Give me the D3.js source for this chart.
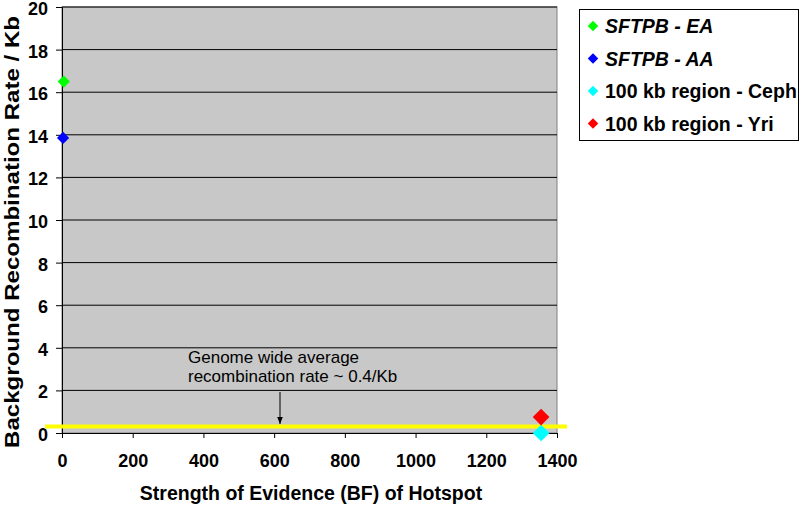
<!DOCTYPE html>
<html><head><meta charset="utf-8">
<script src="https://cdn.jsdelivr.net/npm/d3@7"></script>
<style>body{margin:0;background:#fff}svg{display:block;font-family:Arial,"Liberation Sans",sans-serif}</style>
</head><body>
<svg id="c" width="800" height="505"></svg>
<script>
const seriesNames = ["SFTPB - EA", "SFTPB - AA", "100 kb region - Ceph", "100 kb region - Yri"];
const seriesItalic = [true, true, false, false];
const seriesColors = ["#00ff00", "#0000ff", "#00ffff", "#ff0000"];
const xValues = [5, 3, 1355, 1355];
const yValues = [16.5, 13.85, 0.0, 0.75];
const xTicks = [0, 200, 400, 600, 800, 1000, 1200, 1400];
const yTicks = [0, 2, 4, 6, 8, 10, 12, 14, 16, 18, 20];
const genomeAvg = 0.3;

const svg = d3.select("#c");
const L = 62, R = 557, T = 7, B = 433;
const x = d3.scaleLinear().domain([0, 1400]).range([L, R]);
const y = d3.scaleLinear().domain([0, 20]).range([B, T]);
const FF = "Arial, Liberation Sans, sans-serif";

svg.append("rect").attr("x", L).attr("y", T).attr("width", R - L).attr("height", B - T)
  .attr("fill", "#c8c8c8").attr("stroke", "#808080").attr("stroke-width", 1);

// gridlines
svg.append("g").selectAll("line").data(yTicks.filter(d => d > 0)).join("line")
  .attr("x1", L).attr("x2", R).attr("y1", d => y(d)).attr("y2", d => y(d))
  .attr("stroke", "#000").attr("stroke-width", 1);

// y axis
const ya = svg.append("g").attr("transform", `translate(${L},0)`)
  .call(d3.axisLeft(y).tickValues(yTicks).tickFormat(d3.format("d")).tickSize(6).tickPadding(8));
ya.select(".domain").attr("stroke", "#000");
ya.selectAll("text").attr("font-size", 18).attr("font-weight", "bold").attr("fill", "#000")
  .attr("font-family", FF).attr("dy", "0.42em");

// x axis
const xa = svg.append("g").attr("transform", `translate(0,${B})`)
  .call(d3.axisBottom(x).tickValues(xTicks).tickFormat(d3.format("d")).tickSize(5).tickPadding(16));
xa.select(".domain").attr("stroke", "#000");
xa.selectAll("text").attr("font-size", 18).attr("font-weight", "bold").attr("fill", "#000").attr("font-family", FF);

// genome-wide average line
svg.append("line").attr("x1", 45).attr("x2", 567).attr("y1", y(genomeAvg)).attr("y2", y(genomeAvg))
  .attr("stroke", "#ffff00").attr("stroke-width", 4);

// points
svg.append("g").selectAll("path").data(d3.range(4)).join("path")
  .attr("d", i => d3.symbol().type(d3.symbolSquare).size(i >= 2 ? 140 : 75)())
  .attr("transform", i => `translate(${x(xValues[i])},${y(yValues[i])}) rotate(45)`)
  .attr("fill", i => seriesColors[i]);

// annotation
const ann = svg.append("text").attr("font-size", 17).attr("fill", "#000");
ann.append("tspan").attr("x", 188).attr("y", 363).text("Genome wide average");
ann.append("tspan").attr("x", 188).attr("y", 382).text("recombination rate ~ 0.4/Kb");
svg.append("defs").append("marker").attr("id", "ah").attr("viewBox", "0 0 10 10")
  .attr("refX", 10).attr("refY", 5).attr("markerWidth", 7).attr("markerHeight", 7).attr("orient", "auto")
  .append("path").attr("d", "M0,1 L10,5 L0,9 Z").attr("fill", "#000");
svg.append("line").attr("x1", 280).attr("x2", 280).attr("y1", 392).attr("y2", 424)
  .attr("stroke", "#000").attr("stroke-width", 1).attr("marker-end", "url(#ah)");

// axis titles
svg.append("text").attr("x", 311).attr("y", 500).attr("text-anchor", "middle")
  .attr("font-size", 19.5).attr("font-weight", "bold").text("Strength of Evidence (BF) of Hotspot");
svg.append("text").attr("transform", `translate(19,232) rotate(-90)`).attr("text-anchor", "middle")
  .attr("font-size", 21).attr("font-weight", "bold")
  .attr("textLength", 432).attr("lengthAdjust", "spacingAndGlyphs")
  .text("Background Recombination Rate / Kb");

// legend
const lg = svg.append("g");
lg.append("rect").attr("x", 579.5).attr("y", 9.5).attr("width", 219).attr("height", 131)
  .attr("fill", "#fff").attr("stroke", "#000").attr("stroke-width", 1);
const items = lg.selectAll("g.it").data(d3.range(4)).join("g").attr("class", "it")
  .attr("transform", i => `translate(593,${26 + i * 32.5})`);
items.append("path").attr("d", d3.symbol().type(d3.symbolSquare).size(55)()).attr("transform", "rotate(45)")
  .attr("fill", i => seriesColors[i]);
items.append("text").attr("x", 12).attr("y", 7).attr("font-size", 19.5).attr("font-weight", "bold")
  .attr("font-style", i => seriesItalic[i] ? "italic" : "normal").text(i => seriesNames[i]);
</script>
</body></html>
